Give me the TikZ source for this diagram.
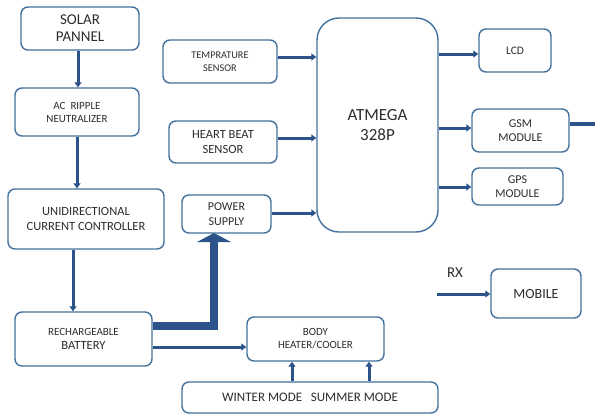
\documentclass[tikz,border=0pt]{standalone}
\usepackage{fontspec}
\setmainfont{Carlito}
\usetikzlibrary{arrows.meta}
\definecolor{bord}{RGB}{65,113,156}
\definecolor{arr}{RGB}{44,84,138}
\definecolor{txt}{RGB}{45,45,45}
\tikzset{
  blk/.style={draw=bord, line width=1.4pt, rounded corners=7pt, inner sep=0pt, align=center, text=txt, fill=white},
  conn/.style={draw=arr, line width=3pt, -{Triangle[length=5pt,width=7pt]}},
}
\begin{document}
\begin{tikzpicture}[x=1pt,y=-1pt]
\fill[white] (0,0) rectangle (595,416);
\useasboundingbox (0,0) rectangle (595,416);

\node[blk, minimum width=118pt, minimum height=43pt, font=\fontsize{15}{17}\selectfont] (solar) at (80,28.5) {SOLAR\\PANNEL};
\node[blk, minimum width=124pt, minimum height=48pt, font=\fontsize{11}{13}\selectfont] (ac) at (77,112) {AC\ \ RIPPLE\\NEUTRALIZER};
\node[blk, minimum width=156pt, minimum height=60pt, font=\fontsize{12.5}{15}\selectfont] (unid) at (86,219) {UNIDIRECTIONAL\\CURRENT CONTROLLER};
\node[blk, minimum width=137pt, minimum height=54pt, font=\fontsize{11}{14}\selectfont] (bat) at (83.5,339) {RECHARGEABLE\\{\fontsize{12.5}{14}\selectfont BATTERY}};
\node[blk, minimum width=114pt, minimum height=43pt, font=\fontsize{10.3}{13}\selectfont] (temp) at (220,61.5) {TEMPRATURE\\SENSOR};
\node[blk, minimum width=108pt, minimum height=42pt, font=\fontsize{12.5}{15}\selectfont] (heart) at (223,142) {HEART BEAT\\SENSOR};
\node[blk, minimum width=89pt, minimum height=38pt, font=\fontsize{12}{15}\selectfont] (power) at (226.5,214) {POWER\\SUPPLY};
\node[blk, rounded corners=22pt, minimum width=121pt, minimum height=214pt, font=\fontsize{17}{20}\selectfont] (atm) at (377.5,125) {ATMEGA\\328P};
\node[blk, minimum width=72pt, minimum height=43pt, font=\fontsize{11.5}{13}\selectfont] (lcd) at (515,50.5) {LCD};
\node[blk, minimum width=97pt, minimum height=43pt, font=\fontsize{12}{14}\selectfont] (gsm) at (520.5,130.5) {GSM\\MODULE};
\node[blk, minimum width=91pt, minimum height=37pt, font=\fontsize{12}{14}\selectfont] (gps) at (517.5,186.5) {GPS\\MODULE};
\node[blk, minimum width=90pt, minimum height=49pt, font=\fontsize{14}{16}\selectfont] (mob) at (536,293.5) {MOBILE};
\node[blk, minimum width=137pt, minimum height=44pt, font=\fontsize{11}{13}\selectfont] (heat) at (315.5,339) {BODY\\HEATER/COOLER};
\node[blk, minimum width=256pt, minimum height=31pt, font=\fontsize{13}{15}\selectfont] (modes) at (310,397.5) {WINTER MODE\ \ \ SUMMER MODE};
\node[font=\fontsize{15}{16}\selectfont, text=txt, inner sep=0pt] (rx) at (455,273) {RX};
\coordinate (rxs) at (437,294);
\coordinate (gsmo) at (595,124);

% power chain
\draw[conn] (solar.south -| 78,0) -- (ac.north -| 78,0);
\draw[conn] (ac.south -| 77,0) -- (unid.north -| 77,0);
\draw[conn] (unid.south -| 73,0) -- (bat.north -| 73,0);

% battery to power supply (big arrow)
\draw[draw=arr, line width=8pt] (bat.east |- 0,326) -- (214,326) -- (214,241);
\fill[arr] (197,242) -- (231,242) -- (214,233) -- cycle;

% battery to heater
\draw[conn] (bat.east |- 0,347) -- (heat.west |- 0,347);

% sensors to atmega
\draw[conn] (temp.east |- 0,57) -- (atm.west |- 0,57);
\draw[conn] (heart.east |- 0,138) -- (atm.west |- 0,138);
\draw[conn] (power.east |- 0,213) -- (atm.west |- 0,213);

% atmega outputs
\draw[conn] (atm.east |- 0,54) -- (lcd.west |- 0,54);
\draw[conn] (atm.east |- 0,128) -- (gsm.west |- 0,128);
\draw[conn] (atm.east |- 0,187) -- (gps.west |- 0,187);
\draw[draw=arr, line width=4.5pt] (gsm.east |- 0,124) -- (gsmo);

% rx to mobile
\draw[conn] (rxs) -- (mob.west |- rxs);

% modes to heater
\draw[conn] (modes.north -| 292,0) -- (heat.south -| 292,0);
\draw[conn] (modes.north -| 369,0) -- (heat.south -| 369,0);
\end{tikzpicture}
\end{document}
